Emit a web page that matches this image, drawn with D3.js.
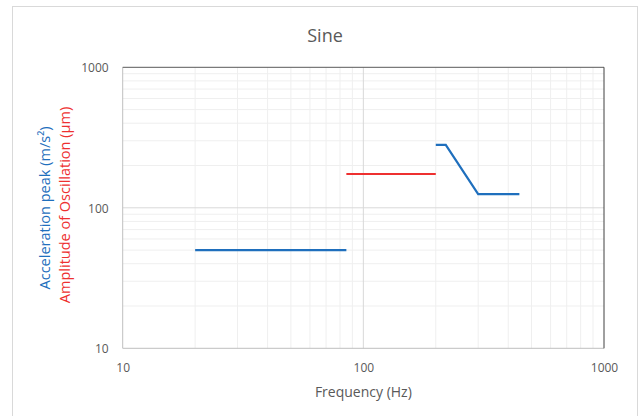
<!DOCTYPE html>
<html><head><meta charset="utf-8">
<script src="https://cdn.jsdelivr.net/npm/d3@7"></script>
<style>body{margin:0;background:#fff;} text{font-family:"Open Sans","Liberation Sans",sans-serif;}</style>
</head><body>
<svg id="c" width="638" height="416"></svg>
<script>
const title = "Sine";
const xLabel = "Frequency (Hz)";
const yLabelBlue = "Acceleration peak (m/s²)";
const yLabelRed = "Amplitude of Oscillation (µm)";
const xTicks = [10, 100, 1000];
const yTicks = [10, 100, 1000];
// Blue segment 1 (acceleration)
const accelLow = [{f:20, v:50}, {f:85, v:50}];
// Red segment (amplitude)
const amplitude = [{f:85, v:174}, {f:200, v:174}];
// Blue segment 2 (acceleration)
const accelHigh = [{f:200, v:280}, {f:220, v:280}, {f:300, v:125}, {f:445, v:125}];

const svg = d3.select("#c");
const L = 122.7, R = 604, T = 67.3, B = 348.3;
const x = d3.scaleLog().domain([10,1000]).range([L,R]);
const y = d3.scaleLog().domain([10,1000]).range([B,T]);

svg.append("rect").attr("x",12.5).attr("y",6.5).attr("width",625).attr("height",412)
  .attr("fill","#fff").attr("stroke","#d9d9d9");

// minor grid
const minors = [];
[10,100].forEach(d=>{for(let k=2;k<=9;k++) minors.push(d*k);});
const g = svg.append("g");
g.selectAll(".vx").data(minors).enter().append("line")
  .attr("x1",d=>x(d)).attr("x2",d=>x(d)).attr("y1",T).attr("y2",B)
  .attr("stroke","#efefef").attr("stroke-width",1);
g.selectAll(".hy").data(minors).enter().append("line")
  .attr("y1",d=>y(d)).attr("y2",d=>y(d)).attr("x1",L).attr("x2",R)
  .attr("stroke","#efefef").attr("stroke-width",1);
// major grid
g.append("line").attr("x1",x(100)).attr("x2",x(100)).attr("y1",T).attr("y2",B).attr("stroke","#d9d9d9");
g.append("line").attr("y1",y(100)).attr("y2",y(100)).attr("x1",L).attr("x2",R).attr("stroke","#d9d9d9");

// borders
svg.append("line").attr("x1",L).attr("x2",L).attr("y1",T).attr("y2",B).attr("stroke","#bfbfbf");
svg.append("line").attr("x1",L).attr("x2",R).attr("y1",B).attr("y2",B).attr("stroke","#bfbfbf");
svg.append("line").attr("x1",L).attr("x2",R).attr("y1",T).attr("y2",T).attr("stroke","#595959");
svg.append("line").attr("x1",R).attr("x2",R).attr("y1",T).attr("y2",B).attr("stroke","#404040");

// axes (tick labels only)
const xAxis = d3.axisBottom(x).tickValues(xTicks).tickFormat(d3.format("d")).tickSize(0).tickPadding(0);
const xa = svg.append("g").attr("transform",`translate(0,${B})`).call(xAxis);
xa.select(".domain").remove();
xa.selectAll("text").attr("dy",null).attr("y",24).attr("fill","#595959").attr("font-size","12px");

const yAxis = d3.axisLeft(y).tickValues(yTicks).tickFormat(d3.format("d")).tickSize(0).tickPadding(0);
const ya = svg.append("g").attr("transform",`translate(${L-14},0)`).call(yAxis);
ya.select(".domain").remove();
ya.selectAll("text").attr("dy","0.35em").attr("fill","#595959").attr("font-size","12px");

// lines
const line = d3.line().x(d=>x(d.f)).y(d=>y(d.v));
svg.append("path").datum(accelLow).attr("d",line).attr("fill","none").attr("stroke","#1f6fbd").attr("stroke-width",2.2);
svg.append("path").datum(amplitude).attr("d",line).attr("fill","none").attr("stroke","#ee3030").attr("stroke-width",2.2);
svg.append("path").datum(accelHigh).attr("d",line).attr("fill","none").attr("stroke","#1f6fbd").attr("stroke-width",2.2);

// title
svg.append("text").attr("x",325).attr("y",42).attr("text-anchor","middle")
  .attr("fill","#595959").attr("font-size","18px").text(title);
svg.append("text").attr("x",(L+R)/2).attr("y",397).attr("text-anchor","middle")
  .attr("fill","#595959").attr("font-size","14px").text(xLabel);
svg.append("text").attr("transform","translate(50,208) rotate(-90)").attr("text-anchor","middle")
  .attr("fill","#1f6fbd").attr("font-size","14.5px").text(yLabelBlue);
svg.append("text").attr("transform","translate(70,205) rotate(-90)").attr("text-anchor","middle")
  .attr("fill","#ee3030").attr("font-size","14.5px").text(yLabelRed);
</script>
</body></html>
